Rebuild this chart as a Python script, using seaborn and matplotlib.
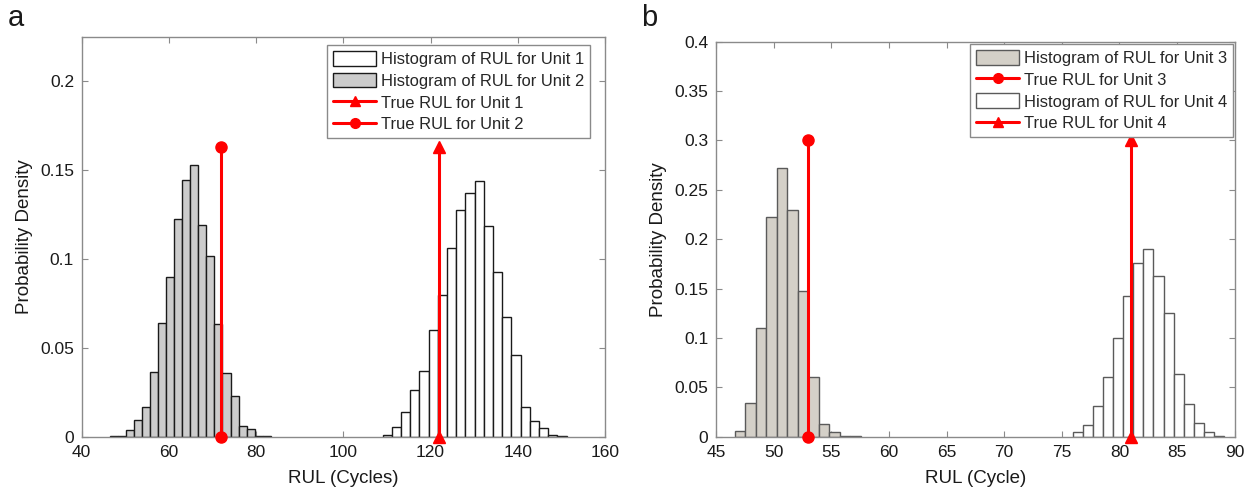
import numpy as np
import pandas as pd
import matplotlib
matplotlib.use("Agg")
import matplotlib.pyplot as plt
from matplotlib.patches import Patch
from matplotlib.lines import Line2D
from matplotlib.ticker import FuncFormatter
import seaborn as sns

# ---------------- data ----------------
# Panel a
unit1_bin_start = 109.0
unit1_bin_width = 2.11
unit1_density = [0.001, 0.0056, 0.014, 0.0262, 0.0371, 0.0603, 0.0796, 0.1062, 0.1277, 0.1369,
                 0.1437, 0.1185, 0.0925, 0.0671, 0.0459, 0.0169, 0.0088, 0.0047, 0.0008, 0.0004]
unit2_bin_start = 46.38
unit2_bin_width = 1.85
unit2_density = [0.0004, 0.0006, 0.0037, 0.0094, 0.0167, 0.0365, 0.064, 0.0899, 0.1223, 0.1442,
                 0.1528, 0.1191, 0.1019, 0.0635, 0.036, 0.023, 0.0058, 0.0043, 0.0005, 0.0003]
true_rul_unit1 = 122
true_rul_unit2 = 72
true_marker_height_a = 0.163

# Panel b
unit3_bin_start = 46.62
unit3_bin_width = 0.91
unit3_density = [0.0061, 0.0338, 0.1097, 0.2222, 0.2718, 0.2296, 0.1475, 0.0608, 0.0129, 0.0044,
                 0.0007, 0.0005]
unit4_bin_start = 75.94
unit4_bin_width = 0.876
unit4_density = [0.0044, 0.0118, 0.0314, 0.0605, 0.0996, 0.1428, 0.1759, 0.1901, 0.1627, 0.1249,
                 0.0632, 0.0331, 0.0142, 0.0044, 0.0004]
true_rul_unit3 = 53
true_rul_unit4 = 81
true_marker_height_b = 0.300

xticks_a = [40, 60, 80, 100, 120, 140, 160]
yticks_a = [0, 0.05, 0.1, 0.15, 0.2]
xticks_b = [45, 50, 55, 60, 65, 70, 75, 80, 85, 90]
yticks_b = [0, 0.05, 0.1, 0.15, 0.2, 0.25, 0.3, 0.35, 0.4]

# ---------------- style ----------------
sns.set_theme(style="white")
plt.rcParams["font.family"] = ["Liberation Sans", "DejaVu Sans"]
plt.rcParams["axes.edgecolor"] = "#8a8a8a"
plt.rcParams["axes.linewidth"] = 1.0

W, H = 1256, 492
fig = plt.figure(figsize=(W / 100, H / 100), dpi=100)

def px_axes(l, t, r, b):
    return fig.add_axes([l / W, 1 - b / H, (r - l) / W, (b - t) / H])

ax_a = px_axes(81.7, 36.7, 605, 436.7)
ax_b = px_axes(716, 41.7, 1234.7, 436.7)

RED = "#ff0000"

def hist_from_density(ax, start, width, dens, face, edge, lw):
    dens = np.asarray(dens, dtype=float)
    edges = start + width * np.arange(len(dens) + 1)
    centers = (edges[:-1] + edges[1:]) / 2
    df = pd.DataFrame({"rul": centers, "density": dens})
    sns.histplot(data=df, x="rul", weights="density", bins=list(edges), stat="count", ax=ax,
                 color=face, edgecolor=edge, linewidth=lw, alpha=1, shrink=1)

def true_line(ax, x, top, marker):
    ax.plot([x, x], [0, top], color=RED, lw=2.2, marker=marker, ms=8,
            clip_on=False, zorder=5)

# Panel a
hist_from_density(ax_a, unit2_bin_start, unit2_bin_width, unit2_density, "#cccccc", "#1a1a1a", 1.0)
hist_from_density(ax_a, unit1_bin_start, unit1_bin_width, unit1_density, "#ffffff", "#1a1a1a", 1.0)
true_line(ax_a, true_rul_unit1, true_marker_height_a, "^")
true_line(ax_a, true_rul_unit2, true_marker_height_a, "o")

# Panel b
hist_from_density(ax_b, unit3_bin_start, unit3_bin_width, unit3_density, "#d4d0c8", "#5a5a5a", 1.0)
hist_from_density(ax_b, unit4_bin_start, unit4_bin_width, unit4_density, "#ffffff", "#5a5a5a", 1.0)
true_line(ax_b, true_rul_unit3, true_marker_height_b, "o")
true_line(ax_b, true_rul_unit4, true_marker_height_b, "^")

fmt = FuncFormatter(lambda v, p: "%g" % round(v, 4))
for ax, xt, yt, xl, yl, xlabel in [
    (ax_a, xticks_a, yticks_a, (40, 160), (0, 0.225), "RUL (Cycles)"),
    (ax_b, xticks_b, yticks_b, (45, 90), (0, 0.4), "RUL (Cycle)"),
]:
    ax.set_xlim(*xl)
    ax.set_ylim(*yl)
    ax.set_xticks(xt)
    ax.set_yticks(yt)
    ax.xaxis.set_major_formatter(fmt)
    ax.yaxis.set_major_formatter(fmt)
    ax.tick_params(direction="in", length=4, width=0.8, color="#8a8a8a",
                   top=True, right=True, bottom=True, left=True,
                   labelsize=12.5, labelcolor="#1a1a1a")
    ax.tick_params(axis="x", pad=6)
    ax.tick_params(axis="y", pad=5.5)
    ax.set_xlabel(xlabel, fontsize=13.5, color="#1a1a1a", labelpad=7)
    ax.set_ylabel("Probability Density", fontsize=13.5, color="#1a1a1a", labelpad=5)
    for s in ax.spines.values():
        s.set_visible(True)
        s.set_color("#8a8a8a")

def legend_handles(items):
    hs = []
    for kind, face, edge, label, marker in items:
        if kind == "patch":
            hs.append(Patch(facecolor=face, edgecolor=edge, linewidth=1.0, label=label))
        else:
            hs.append(Line2D([0], [0], color=RED, lw=2.2, marker=marker, ms=7, label=label))
    return hs

leg_kw = dict(loc="upper right", bbox_transform=fig.transFigure, borderaxespad=0,
              fontsize=11.9, frameon=True, fancybox=False, framealpha=1,
              edgecolor="#8a8a8a", handlelength=2.6, handleheight=1.0,
              labelspacing=0.35, borderpad=0.35, handletextpad=0.3)

h_a = legend_handles([
    ("patch", "#ffffff", "#1a1a1a", "Histogram of RUL for Unit 1", None),
    ("patch", "#cccccc", "#1a1a1a", "Histogram of RUL for Unit 2", None),
    ("line", None, None, "True RUL for Unit 1", "^"),
    ("line", None, None, "True RUL for Unit 2", "o"),
])
leg = ax_a.legend(handles=h_a, bbox_to_anchor=(590 / W, 1 - 45 / H), **leg_kw)
leg.get_frame().set_linewidth(1.0)

h_b = legend_handles([
    ("patch", "#d4d0c8", "#5a5a5a", "Histogram of RUL for Unit 3", None),
    ("line", None, None, "True RUL for Unit 3", "o"),
    ("patch", "#ffffff", "#5a5a5a", "Histogram of RUL for Unit 4", None),
    ("line", None, None, "True RUL for Unit 4", "^"),
])
leg = ax_b.legend(handles=h_b, bbox_to_anchor=(1233 / W, 1 - 44 / H), **leg_kw)
leg.get_frame().set_linewidth(1.0)

fig.text(8 / W, 1 - 4 / H, "a", fontsize=21, va="top", ha="left", color="#1a1a1a")
fig.text(641 / W, 1 - 4 / H, "b", fontsize=21, va="top", ha="left", color="#1a1a1a")

fig.savefig("out.png", dpi=100)
